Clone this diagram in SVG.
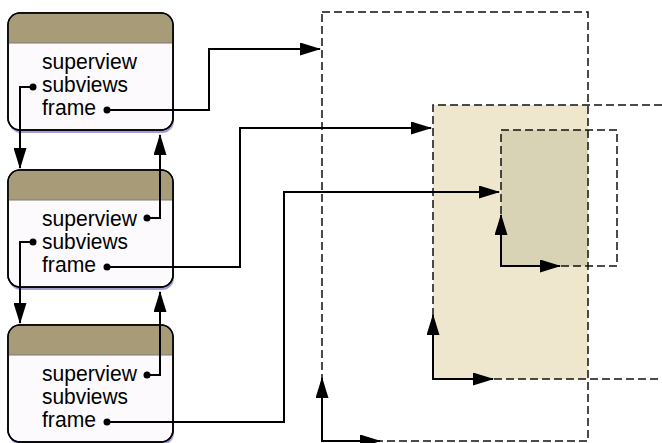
<svg xmlns="http://www.w3.org/2000/svg" width="662" height="443" viewBox="0 0 662 443">
<style>
.body{fill:#fdfafd;stroke:#000;stroke-width:1.5}
.shadow{fill:#9f9fd6}
.head{fill:#a89b78}
.div{stroke:#7a7a7a;stroke-width:1}
.lbl{font-family:"Liberation Sans",Arial,sans-serif;font-size:21.5px;fill:#000}
.dash{fill:none;stroke:#111;stroke-width:1.5;stroke-dasharray:8 4}
.conn{fill:none;stroke:#000;stroke-width:2}
.dot{fill:#000}
</style>
<defs>
<marker id="ah" markerUnits="userSpaceOnUse" markerWidth="21" markerHeight="13" refX="20" refY="6.5" orient="auto" viewBox="0 0 21 13">
<path d="M0,0 L21,6.5 L0,13 Z" fill="#000"/>
</marker>
<symbol id="box" overflow="visible">
<rect class="shadow" x="9" y="16" width="165" height="117" rx="12"/>
<rect class="body" x="8" y="13" width="165" height="117" rx="12"/>
<path class="head" d="M8.75,43 V25 a11.25,11.25 0 0 1 11.25,-11.25 H161 a11.25,11.25 0 0 1 11.25,11.25 V43 Z"/>
<line class="div" x1="8.75" y1="43" x2="172.25" y2="43"/>
<rect x="8" y="13" width="165" height="117" rx="12" fill="none" stroke="#000" stroke-width="1.5"/>
</symbol>
</defs>
<g id="frames">
<rect x="433" y="105" width="155" height="274" fill="#efe7cd"/>
<rect x="501" y="130" width="87" height="136" fill="#d9d3b6"/>
<rect class="dash" x="322" y="12" width="266" height="429"/>
<path class="dash" d="M662,105 H433 V379 H662"/>
<rect class="dash" x="501" y="130" width="116" height="136"/>
</g>
<g id="view1">
<use href="#box"/>
<text class="lbl" x="42" y="69" textLength="95" lengthAdjust="spacingAndGlyphs">superview</text>
<text class="lbl" x="42" y="92" textLength="86" lengthAdjust="spacingAndGlyphs">subviews</text>
<text class="lbl" x="42" y="115" textLength="54" lengthAdjust="spacingAndGlyphs">frame</text>
</g>
<g id="view2" transform="translate(0,157)">
<use href="#box"/>
<text class="lbl" x="42" y="69" textLength="95" lengthAdjust="spacingAndGlyphs">superview</text>
<text class="lbl" x="42" y="92" textLength="86" lengthAdjust="spacingAndGlyphs">subviews</text>
<text class="lbl" x="42" y="115" textLength="54" lengthAdjust="spacingAndGlyphs">frame</text>
</g>
<g id="view3" transform="translate(0,312)">
<use href="#box"/>
<text class="lbl" x="42" y="69" textLength="95" lengthAdjust="spacingAndGlyphs">superview</text>
<text class="lbl" x="42" y="92" textLength="86" lengthAdjust="spacingAndGlyphs">subviews</text>
<text class="lbl" x="42" y="115" textLength="54" lengthAdjust="spacingAndGlyphs">frame</text>
</g>
<g id="connectors">
<path class="conn" d="M107,110 H209 V49 H320" marker-end="url(#ah)"/>
<path class="conn" d="M33,87 H20 V168" marker-end="url(#ah)"/>
<path class="conn" d="M147,218 H160 V135" marker-end="url(#ah)"/>
<path class="conn" d="M107,267 H240 V128 H431" marker-end="url(#ah)"/>
<path class="conn" d="M33,242 H20 V323" marker-end="url(#ah)"/>
<path class="conn" d="M147,375 H160 V292" marker-end="url(#ah)"/>
<path class="conn" d="M107,422 H284 V192 H499" marker-end="url(#ah)"/>
<path class="conn" d="M501,266 V215" marker-end="url(#ah)"/>
<path class="conn" d="M500,266 H560" marker-end="url(#ah)"/>
<path class="conn" d="M433,379 V315" marker-end="url(#ah)"/>
<path class="conn" d="M432,379 H493" marker-end="url(#ah)"/>
<path class="conn" d="M322,441 V378" marker-end="url(#ah)"/>
<path class="conn" d="M321,441 H380" marker-end="url(#ah)"/>
<circle class="dot" cx="107" cy="110" r="3.5"/>
<circle class="dot" cx="33" cy="87" r="3.5"/>
<circle class="dot" cx="147" cy="218" r="3.5"/>
<circle class="dot" cx="107" cy="267" r="3.5"/>
<circle class="dot" cx="33" cy="242" r="3.5"/>
<circle class="dot" cx="147" cy="375" r="3.5"/>
<circle class="dot" cx="107" cy="422" r="3.5"/>
</g>
</svg>
